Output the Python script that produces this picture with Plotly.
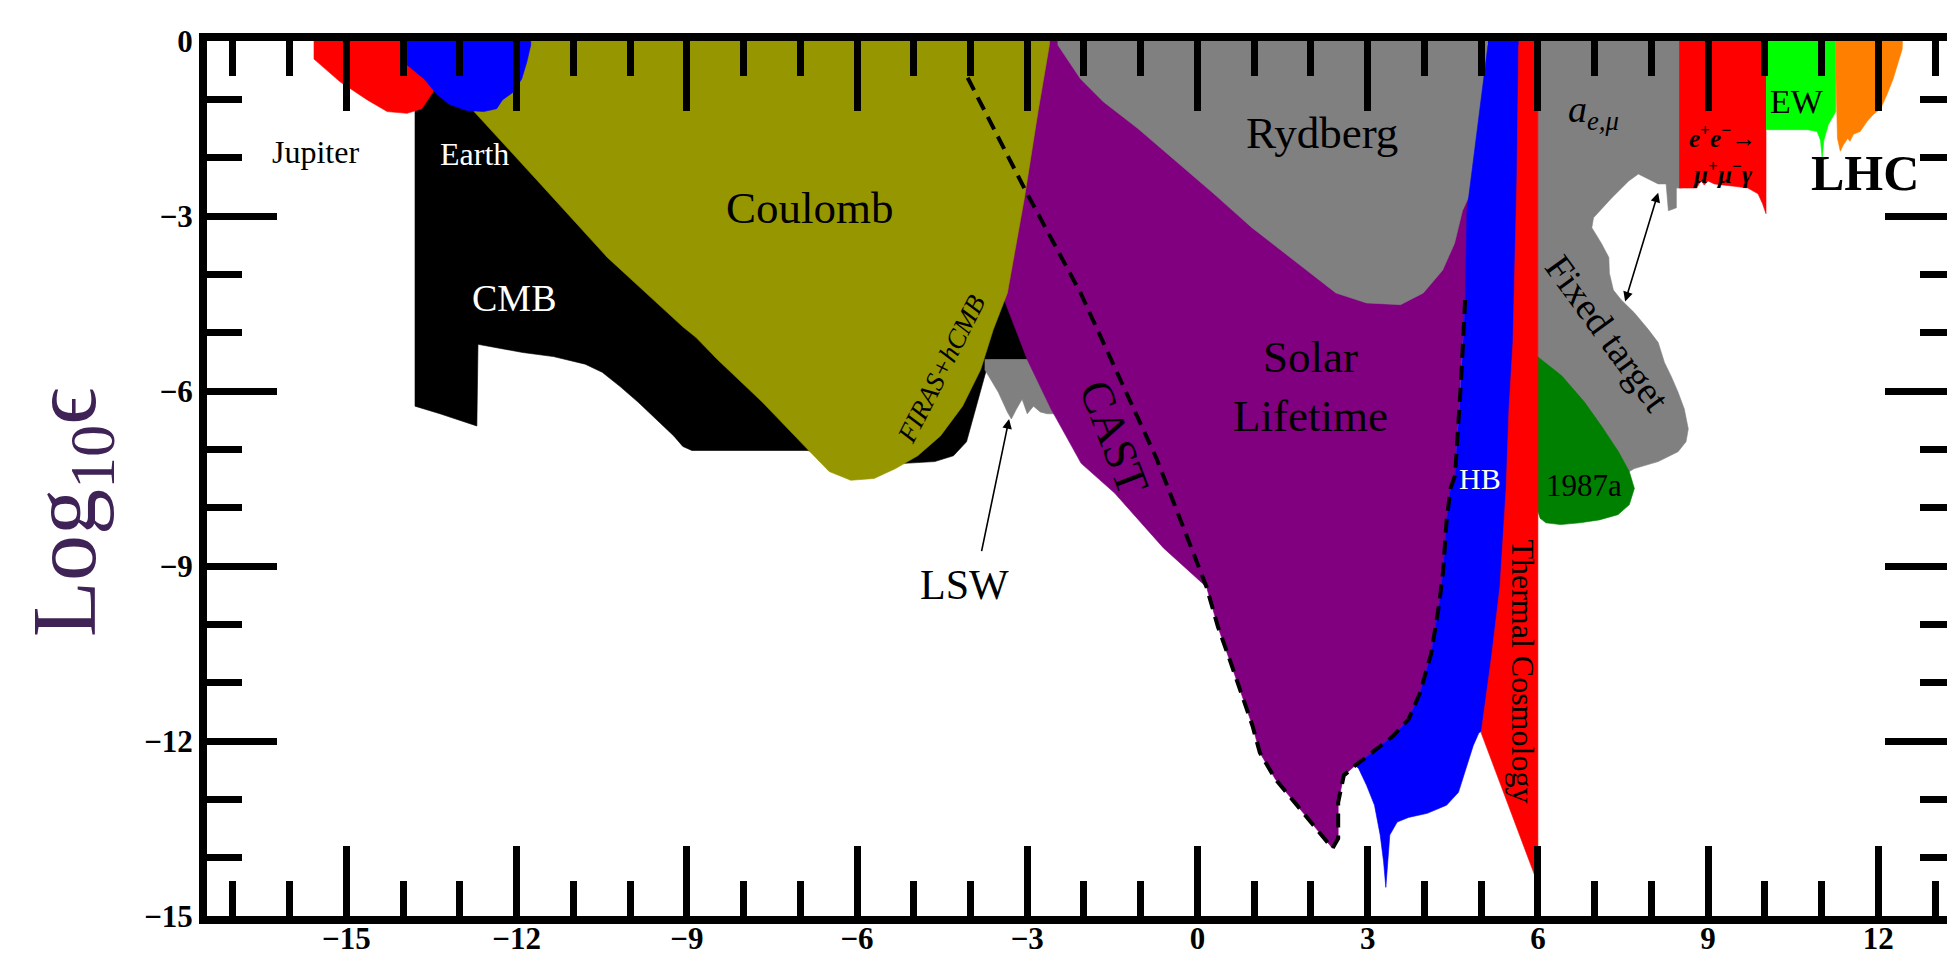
import plotly.graph_objects as go

# ---------------- data (x = log10 mass, y = log10 epsilon) ----------------
jupiter_x = [-15.57, -15.57, -15.11, -14.63, -14.28, -13.93, -13.67, -13.49, -13.35, -13.35]
jupiter_y = [0.5, -0.31, -0.70, -1.01, -1.21, -1.24, -1.16, -0.90, -0.65, 0.5]

earth_x = [-13.93, -13.93, -13.63, -13.40, -13.18, -12.88, -12.58, -12.35, -12.25, -12.05, -11.91, -11.82, -11.75, -11.75]
earth_y = [0.5, -0.41, -0.65, -0.92, -1.09, -1.19, -1.21, -1.16, -1.01, -0.87, -0.65, -0.36, -0.07, 0.5]

cmb_x = [-13.79, -13.79, -13.35, -12.70, -12.68, -12.37, -11.89, -11.35, -10.79, -10.49, -10.18, -9.86, -9.54,
         -9.23, -9.07, -8.91, -6.88, -5.16, -4.63, -4.30, -4.07, -3.91, -3.75, -3.67, -2.88, -3.32, -3.49]
cmb_y = [0.5, -6.26, -6.39, -6.60, -5.20, -5.25, -5.34, -5.41, -5.54, -5.68, -5.92, -6.19, -6.48,
         -6.77, -6.95, -7.02, -7.02, -7.24, -7.21, -7.11, -6.87, -6.31, -5.75, -5.46, -5.46, -4.35, 0.5]

lsw_x = [-3.75, -2.53, -2.53, -2.65, -2.77, -2.89, -3.00, -3.09, -3.19, -3.28, -3.35, -3.51, -3.75]
lsw_y = [-5.46, -5.46, -6.39, -6.39, -6.36, -6.26, -6.39, -6.14, -6.31, -6.48, -6.36, -6.02, -5.63]

solar_x = [-2.88, 5.02, 4.84, 4.72, 4.65, 4.54, 4.46, 4.39, 4.33, 4.26, 4.12, 3.92, 3.72, 3.45, 3.05, 2.78,
           2.58, 2.48, 2.48, 2.38, 2.04, 1.71, 1.37, 1.10, 0.97, 0.77, 0.57, 0.36, 0.16, -0.60, -1.46,
           -2.05, -2.58, -3.00, -3.42, -3.40]
solar_y = [0.5, 0.5, -2.40, -4.39, -5.75, -7.45, -7.67, -8.23, -9.08, -9.65, -10.50, -11.18, -11.63, -11.91,
           -12.22, -12.42, -12.59, -13.05, -13.67, -13.84, -13.44, -13.05, -12.65, -12.20, -11.74, -11.18,
           -10.61, -10.04, -9.36, -8.69, -7.75, -7.24, -6.31, -5.46, -4.40, -2.91]

coulomb_x = [-11.90, -12.75, -11.58, -10.40, -9.07, -8.84, -8.46, -7.67, -6.88, -6.49, -6.11, -5.70, -5.32,
             -4.93, -4.53, -4.14, -3.82, -3.60, -3.35, -3.05, -2.81, -2.61, -2.58]
coulomb_y = [0.5, -1.21, -2.45, -3.71, -4.90, -5.08, -5.46, -6.19, -6.99, -7.38, -7.53, -7.50, -7.33,
             -7.11, -6.77, -6.26, -5.63, -4.95, -4.32, -2.69, -1.21, -0.07, 0.5]

rydberg_x = [-2.53, 5.19, 5.02, 4.91, 4.67, 4.53, 4.32, 3.98, 3.58, 2.98, 2.44, 1.63, 0.96, 0.29, -0.39,
             -1.05, -1.66, -2.06, -2.46, -2.46]
rydberg_y = [0.5, 0.5, -1.21, -2.40, -2.91, -3.47, -3.93, -4.32, -4.52, -4.49, -4.32, -3.71, -3.20, -2.62,
             -2.06, -1.50, -1.04, -0.65, -0.07, 0.5]

hb_x = [5.12, 5.89, 5.89, 4.96, 4.86, 4.73, 4.60, 4.39, 4.05, 3.72, 3.52, 3.39, 3.35, 3.32, 3.28, 3.22, 3.12,
        2.98, 2.84, 2.78, 3.05, 3.45, 3.72, 3.92, 4.12, 4.26, 4.33, 4.39, 4.46, 4.54, 4.65, 4.72, 4.75, 4.86,
        4.98, 5.09, 5.12]
hb_y = [0.5, 0.5, -11.40, -11.86, -12.08, -12.47, -12.88, -13.10, -13.24, -13.31, -13.39, -13.61, -14.07,
        -14.51, -14.07, -13.61, -13.10, -12.76, -12.47, -12.42, -12.22, -11.91, -11.63, -11.18, -10.50, -9.65,
        -9.08, -8.23, -7.67, -7.45, -5.75, -4.39, -2.91, -2.06, -1.21, -0.36, -0.07]

fixed_x = [6.0, 8.55, 8.55, 8.44, 8.44, 8.30, 8.26, 8.12, 7.77, 7.60, 7.30, 6.98, 6.95, 7.12, 7.25, 7.26, 7.33,
           7.47, 7.70, 7.95, 8.12, 8.23, 8.35, 8.47, 8.58, 8.65, 8.61, 8.47, 8.12, 7.70, 7.61, 6.0]
fixed_y = [0.5, 0.5, -2.52, -2.52, -2.86, -2.91, -2.45, -2.45, -2.28, -2.40, -2.69, -3.03, -3.20, -3.47, -3.71,
           -3.98, -4.27, -4.44, -4.66, -4.95, -5.17, -5.51, -5.75, -6.02, -6.31, -6.65, -6.87, -7.04, -7.21,
           -7.33, -7.38, -7.50]

sn_x = [5.98, 6.42, 6.82, 7.12, 7.42, 7.61, 7.70, 7.61, 7.41, 7.08, 6.74, 6.40, 6.14, 6.04, 5.98]
sn_y = [-5.40, -5.74, -6.19, -6.60, -7.04, -7.38, -7.67, -7.95, -8.12, -8.21, -8.26, -8.29, -8.26, -8.18, -8.01]

thermal_x = [5.66, 6.0, 6.0, 5.95, 5.0, 5.07, 5.19, 5.33, 5.44, 5.49, 5.56, 5.63, 5.66]
thermal_y = [0.5, 0.5, -14.20, -14.32, -11.86, -11.35, -10.50, -9.36, -7.67, -6.31, -5.17, -2.35, -0.07]

babar_x = [8.49, 10.02, 10.02, 9.96, 9.88, 9.70, 9.46, 9.11, 9.0, 8.93, 8.88, 8.80, 8.49]
babar_y = [0.5, 0.5, -2.96, -2.79, -2.62, -2.52, -2.49, -2.45, -2.40, -2.47, -2.38, -2.52, -2.52]

ew_x = [10.02, 11.25, 11.25, 11.12, 11.04, 11.01, 10.98, 10.92, 10.75, 10.02]
ew_y = [0.5, 0.5, -1.21, -1.43, -1.70, -2.01, -1.70, -1.55, -1.52, -1.52]

lhc_x = [11.25, 12.44, 12.42, 12.35, 12.26, 12.15, 12.04, 11.91, 11.80, 11.68, 11.56, 11.50, 11.46, 11.39,
         11.33, 11.28, 11.25]
lhc_y = [0.5, 0.5, -0.14, -0.36, -0.65, -0.92, -1.16, -1.26, -1.38, -1.55, -1.60, -1.72, -1.67, -1.77,
         -1.89, -1.67, -0.5]

cast_x = [-4.05, -3.00, -2.06, -1.39, -0.72, 0.16, 0.36, 0.57, 0.77, 0.97, 1.10, 1.37, 1.71, 2.04, 2.38,
          2.48, 2.48, 2.58, 2.78, 3.05, 3.45, 3.72, 3.92, 4.12, 4.26, 4.33, 4.39, 4.46, 4.54, 4.65, 4.72]
cast_y = [-0.63, -2.62, -4.32, -5.75, -7.16, -9.36, -10.04, -10.61, -11.18, -11.74, -12.20, -12.65, -13.05,
          -13.44, -13.84, -13.67, -13.05, -12.59, -12.42, -12.22, -11.91, -11.63, -11.18, -10.50, -9.65,
          -9.08, -8.23, -7.67, -7.45, -5.75, -4.39]

x_range = [-17.456, 13.351]
y_range = [-15, 0]

# ---------------- figure ----------------
regions = [
    (cmb_x, cmb_y, "black"),
    (lsw_x, lsw_y, "#808080"),
    (solar_x, solar_y, "#800080"),
    (coulomb_x, coulomb_y, "#969600"),
    (rydberg_x, rydberg_y, "#808080"),
    (jupiter_x, jupiter_y, "#ff0000"),
    (earth_x, earth_y, "#0000ff"),
    (hb_x, hb_y, "#0000ff"),
    (fixed_x, fixed_y, "#808080"),
    (sn_x, sn_y, "#008000"),
    (thermal_x, thermal_y, "#ff0000"),
    (babar_x, babar_y, "#ff0000"),
    (ew_x, ew_y, "#00ff00"),
    (lhc_x, lhc_y, "#ff8000"),
]

fig = go.Figure()
for xs, ys, col in regions:
    fig.add_trace(go.Scatter(x=xs, y=ys, mode="lines", fill="toself", fillcolor=col,
                             line=dict(width=0.6, color=col), hoverinfo="skip", showlegend=False))

fig.add_trace(go.Scatter(x=cast_x, y=cast_y, mode="lines",
                         line=dict(color="black", width=4, dash="14px,8px"),
                         hoverinfo="skip", showlegend=False))

SERIF = "Liberation Serif, Times New Roman, serif"

labels = [
    ("Jupiter", -15.54, -1.90, 32, "black", 0),
    ("Earth", -12.74, -1.94, 32, "white", 0),
    ("CMB", -12.05, -4.41, 38, "white", 0),
    ("Coulomb", -6.82, -2.87, 45, "black", 0),
    ("<i>FIRAS+hCMB</i>", -4.51, -5.63, 27, "black", -63),
    ("LSW", -4.11, -9.33, 42, "black", 0),
    ("CAST", -1.46, -6.79, 46, "black", 69),
    ("Rydberg", 2.19, -1.58, 45, "black", 0),
    ("Solar<br>Lifetime", 2.0, -5.92, 45, "black", 0),
    ("HB", 4.98, -7.50, 30, "white", 0),
    ("Thermal Cosmology", 5.74, -10.81, 32, "black", 90),
    ("<i>a</i><sub><i>e,μ</i></sub>", 6.98, -1.22, 38, "black", 0),
    ("<b><i>e</i><sup>+</sup><i>e</i><sup>−</sup>→</b>", 9.25, -1.62, 25, "black", 0),
    ("<b><i>μ</i><sup>+</sup><i>μ</i><sup>−</sup><i>γ</i></b>", 9.25, -2.24, 25, "black", 0),
    ("EW", 10.57, -1.04, 34, "black", 0),
    ("<b>LHC</b>", 11.77, -2.27, 50, "black", 0),
    ("1987a", 6.82, -7.62, 31, "black", 0),
    ("Fixed target", 7.23, -5.0, 38, "black", 54),
]
for text, lx, ly, size, col, ang in labels:
    fig.add_annotation(x=lx, y=ly, xref="x", yref="y", text=text, showarrow=False,
                       textangle=ang, font=dict(family=SERIF, size=size, color=col),
                       xanchor="center", yanchor="middle")

# arrows
fig.add_annotation(x=-3.32, y=-6.48, ax=-3.81, ay=-8.77, xref="x", yref="y", axref="x", ayref="y",
                   text="", showarrow=True, arrowhead=2, arrowsize=1.2, arrowwidth=1.6, arrowcolor="black")
fig.add_annotation(x=8.12, y=-2.60, ax=7.53, ay=-4.49, xref="x", yref="y", axref="x", ayref="y",
                   text="", showarrow=True, arrowhead=2, startarrowhead=2, arrowside="end+start",
                   arrowsize=1.2, arrowwidth=1.6, arrowcolor="black")

# y-axis title
fig.add_annotation(x=-0.078, y=0.461, xref="paper", yref="paper", text="Log<sub>10</sub>ϵ",
                   showarrow=False, textangle=-90, xanchor="center", yanchor="middle",
                   font=dict(family=SERIF, size=92, color="#3f2356"))

axis_common = dict(
    tickmode="linear", tick0=0, dtick=3, ticks="inside", ticklen=70, tickwidth=7, tickcolor="black",
    showline=True, linewidth=8, linecolor="black", mirror="ticks", showgrid=False, zeroline=False,
    minor=dict(ticks="inside", tick0=0, dtick=1, ticklen=35, tickwidth=7, tickcolor="black", showgrid=False),
    tickfont=dict(family=SERIF, size=31, color="black", weight="bold"),
)

fig.update_layout(
    width=1955, height=956,
    margin=dict(l=199, r=0, t=33, b=48),
    paper_bgcolor="white", plot_bgcolor="white",
    xaxis=dict(range=x_range, ticklabelstandoff=-12, **axis_common),
    yaxis=dict(range=y_range, **axis_common),
    showlegend=False,
)

fig.write_html("out.html")
